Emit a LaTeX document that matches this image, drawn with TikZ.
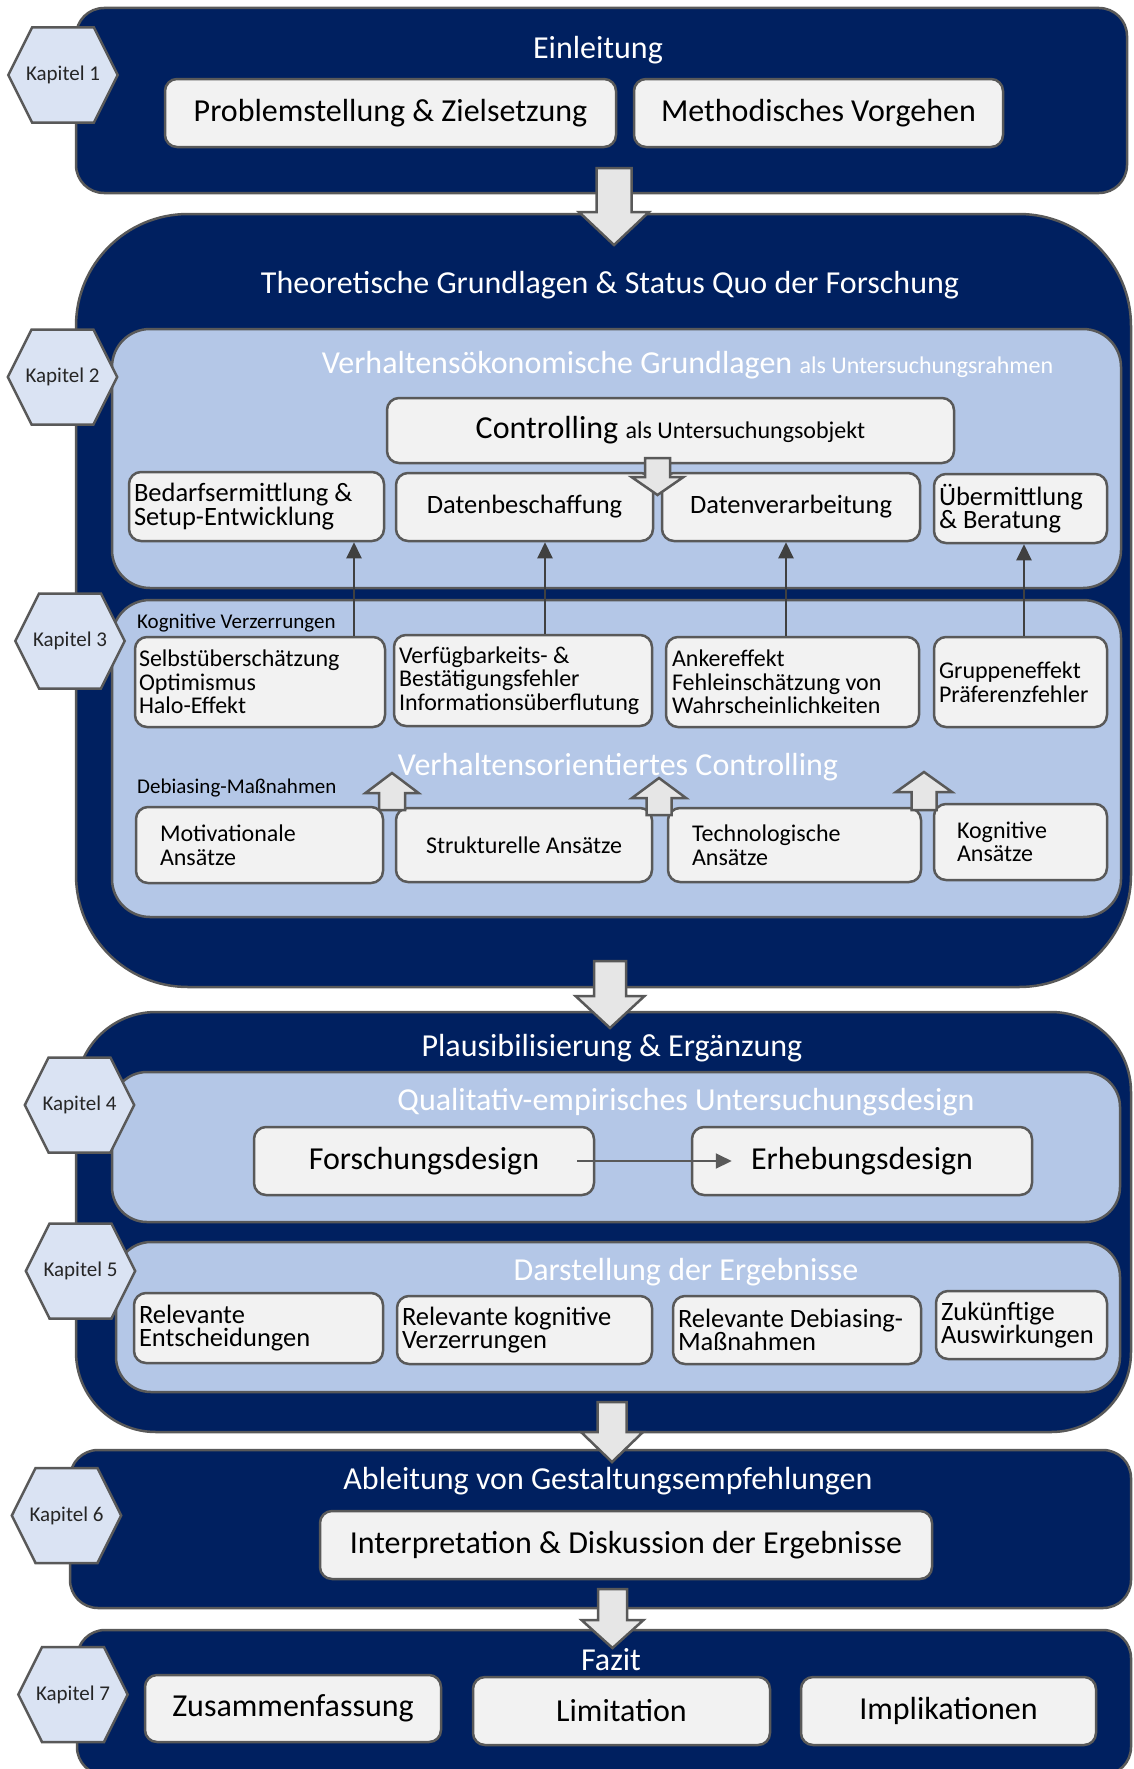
\documentclass[tikz,border=0pt]{standalone}
\usepackage{fontspec}
\setmainfont{Carlito}
\usepackage{tikz}
\usetikzlibrary{shapes,arrows.meta,positioning,calc}

\definecolor{navy}{HTML}{002060}
\definecolor{paleblue}{HTML}{B4C7E7}
\definecolor{hexblue}{HTML}{DAE3F3}
\definecolor{boxgray}{HTML}{F2F2F2}
\definecolor{linegray}{HTML}{595959}
\definecolor{arrowgray}{HTML}{404040}
\definecolor{arrowfill}{HTML}{E6E6E6}

\newcommand\alsfont{\fontsize{24}{28}\selectfont}

\begin{document}
\begin{tikzpicture}[
    x=1pt, y=-1pt,
    chapter/.style={rectangle, draw=linegray, line width=2.5pt, fill=navy, rounded corners=#1, inner sep=0pt},
    chapter/.default=28pt,
    layer/.style={rectangle, draw=linegray, line width=2.5pt, fill=paleblue, rounded corners=#1, inner sep=0pt},
    layer/.default=38pt,
    heading/.style={text=white, font=\fontsize{32}{38}\selectfont, inner sep=0pt},
    note/.style={font=\fontsize{21}{25}\selectfont, inner sep=0pt, anchor=west},
    kapitel/.style={signal, signal to=west and east, signal pointer angle=127, draw=linegray, line width=2.5pt, fill=hexblue, minimum height=95pt, inner xsep=-6pt, inner ysep=0pt, text=black!85, font=\fontsize{21}{25}\selectfont},
    box/.style={rectangle, draw=linegray, line width=2.5pt, fill=boxgray, rounded corners=12pt, inner sep=0pt, align=center, font=\fontsize{32}{36}\selectfont},
    rowbox/.style={box, align=flush left, inner xsep=5pt, font=\fontsize{26.5}{23.5}\selectfont},
    biasbox/.style={box, align=flush left, inner xsep=5pt, font=\fontsize{24}{23.5}\selectfont},
    arrow/.style={-{Triangle[width=15pt,length=16pt]}, line width=2pt, draw=arrowgray},
    bigarrow/.style={draw=linegray, line width=2.5pt, fill=arrowfill, line join=miter},
    pics/blockarrow/.style n args={4}{code={
        \draw[bigarrow] (-#1,0) -- (#1,0) -- (#1,#3) -- (#2,#3) -- (0,#3+#4) -- (-#2,#3) -- (-#1,#3) -- cycle;
    }}
]
    \useasboundingbox (0,0) rectangle (1133,1769);

    % Chapter blocks
    \node[chapter, minimum width=1051pt, minimum height=185pt] (einl) at (601.5,100.5) {};
    \node[chapter=112pt, minimum width=1055pt, minimum height=773pt] (theo) at (603.5,600.5) {};
    \node[chapter=80pt, minimum width=1055pt, minimum height=420pt] (plaus) at (603.5,1222) {};
    \node[chapter, minimum width=1061pt, minimum height=158pt] (ableit) at (600.5,1529) {};
    \node[chapter, minimum width=1054pt, minimum height=145pt] (fazit) at (604,1702.5) {};

    \node[heading] (einltitle) at (598,50) {Einleitung};
    \node[heading] (theotitle) at (610,285) {Theoretische Grundlagen \& Status Quo der Forschung};
    \node[heading] (plaustitle) at (612,1048) {Plausibilisierung \& Ergänzung};
    \node[heading] (ableittitle) at (608,1481) {Ableitung von Gestaltungsempfehlungen};
    \node[heading] (fazittitle) at (611,1660) {Fazit};

    % Inner layers
    \node[layer, minimum width=1009pt, minimum height=259pt] (verh) at (616.5,458.5) {};
    \node[layer, minimum width=1009pt, minimum height=317pt] (orient) at (616.5,758.5) {};
    \node[layer=35pt, minimum width=1008pt, minimum height=150pt] (quali) at (616,1147) {};
    \node[layer=35pt, minimum width=1004pt, minimum height=150pt] (darst) at (618,1317) {};

    \node[heading] (verhtitle) at (687.5,365) {Verhaltensökonomische Grundlagen {\alsfont als Untersuchungsrahmen}};
    \node[heading] (orienttitle) at (618,767) {Verhaltensorientiertes Controlling};
    \node[heading] (qualititle) at (686,1102) {Qualitativ-empirisches Untersuchungsdesign};
    \node[heading] (darsttitle) at (686,1272) {Darstellung der Ergebnisse};
    \node[note] (kogtitle) at (137,623) {Kognitive Verzerrungen};
    \node[note] (debtitle) at (137,788) {Debiasing-Maßnahmen};

    % Kapitel 1
    \node[box, minimum width=451pt, minimum height=68pt] (probl) at (390.5,113) {Problemstellung \& Zielsetzung};
    \node[box, minimum width=369pt, minimum height=68pt] (method) at (818.5,113) {Methodisches Vorgehen};

    % Kapitel 2
    \node[box, minimum width=567pt, minimum height=65pt] (contr) at (670.5,430.5) {Controlling {\alsfont als Untersuchungsobjekt}};
    \node[rowbox, text width=245pt, minimum height=69pt] (bedarf) at (256.5,506.5) {Bedarfsermittlung \&\\Setup-Entwicklung};
    \node[rowbox, align=center, inner xsep=0pt, minimum width=257pt, minimum height=68pt] (datenb) at (524.5,507) {Datenbeschaffung};
    \node[rowbox, align=center, inner xsep=0pt, minimum width=258pt, minimum height=68pt] (datenv) at (791,507) {Datenverarbeitung};
    \node[rowbox, text width=163pt, minimum height=69pt] (uebermit) at (1020.5,508.5) {Übermittlung\\\& Beratung};

    % Kapitel 3
    \node[biasbox, inner xsep=4pt, text width=242pt, minimum height=90pt] (selbst) at (260,682) {Selbstüberschätzung\\Optimismus\\Halo-Effekt};
    \node[biasbox, text width=248pt, minimum height=91pt] (verfueg) at (523,680.5) {Verfügbarkeits- \&\\Bestätigungsfehler\\Informationsüberflutung};
    \node[biasbox, inner xsep=6pt, text width=241pt, minimum height=90pt] (anker) at (792.5,682) {Ankereffekt\\Fehleinschätzung von\\Wahrscheinlichkeiten};
    \node[biasbox, text width=163pt, minimum height=90pt] (gruppe) at (1020.5,682) {Gruppeneffekt\\Präferenzfehler};

    \node[biasbox, inner xsep=24pt, text width=199pt, minimum height=76pt] (motiv) at (259.5,845) {Motivationale\\Ansätze};
    \node[biasbox, align=center, inner xsep=0pt, minimum width=256pt, minimum height=74pt] (strukt) at (524,845) {Strukturelle Ansätze};
    \node[biasbox, inner xsep=24pt, text width=205pt, minimum height=74pt] (techno) at (794.5,845) {Technologische\\Ansätze};
    \node[biasbox, inner xsep=23pt, text width=127pt, minimum height=76pt] (kognit) at (1020.5,842) {Kognitive\\Ansätze};

    % Kapitel 4
    \node[box, minimum width=340pt, minimum height=68pt] (forsch) at (424,1161) {Forschungsdesign};
    \node[box, minimum width=340pt, minimum height=68pt] (erheb) at (862,1161) {Erhebungsdesign};

    % Kapitel 5
    \node[rowbox, text width=239pt, minimum height=70pt] (relent) at (258.5,1328) {Relevante\\Entscheidungen};
    \node[rowbox, text width=245pt, minimum height=68pt] (relkog) at (524.5,1330) {Relevante kognitive\\Verzerrungen};
    \node[rowbox, text width=238pt, minimum height=68pt] (reldeb) at (797,1330) {Relevante Debiasing-\\Maßnahmen};
    \node[rowbox, text width=161pt, minimum height=68pt] (zukunft) at (1021.5,1325) {Zukünftige\\Auswirkungen};

    % Kapitel 6 and 7
    \node[box, minimum width=612pt, minimum height=68pt] (interp) at (626,1545) {Interpretation \& Diskussion der Ergebnisse};
    \node[box, minimum width=296pt, minimum height=67pt] (zusammen) at (293,1708.5) {Zusammenfassung};
    \node[box, minimum width=297pt, minimum height=68pt] (limit) at (621.5,1711) {Limitation};
    \node[box, minimum width=295pt, minimum height=68pt] (impl) at (948.5,1711) {Implikationen};

    % Chapter labels
    \node[kapitel] (k1) at (63,75) {Kapitel 1};
    \node[kapitel] (k2) at (62.5,377) {Kapitel 2};
    \node[kapitel] (k3) at (70,641) {Kapitel 3};
    \node[kapitel] (k4) at (79.5,1105) {Kapitel 4};
    \node[kapitel] (k5) at (80.5,1271) {Kapitel 5};
    \node[kapitel] (k6) at (66.5,1515.5) {Kapitel 6};
    \node[kapitel] (k7) at (73,1694.5) {Kapitel 7};

    % Arrows
    \draw[arrow] ([xshift=94pt]selbst.north) -- ([xshift=94pt]selbst.north |- bedarf.south);
    \draw[arrow] ([xshift=22pt]verfueg.north) -- ([xshift=22pt]verfueg.north |- datenb.south);
    \draw[arrow] ([xshift=-6.5pt]anker.north) -- ([xshift=-6.5pt]anker.north |- datenv.south);
    \draw[arrow] ([xshift=3.5pt]gruppe.north) -- ([xshift=3.5pt]gruppe.north |- uebermit.south);
    \draw[arrow, draw=linegray] ([xshift=-18pt]forsch.east) -- ([xshift=41pt]erheb.west);

    \pic at (614,168) {blockarrow={17.5}{35}{44}{33}};
    \pic at (610,961) {blockarrow={16}{34.5}{35}{32}};
    \pic at (612,1402) {blockarrow={14.5}{31}{30}{30}};
    \pic at (612.5,1589) {blockarrow={14.5}{31}{31}{28}};
    \pic at (657.5,458) {blockarrow={12.5}{26}{19}{18}};
    \pic[yscale=-1] at (392,810) {blockarrow={13}{26.5}{17}{20}};
    \pic[yscale=-1] at (659,815) {blockarrow={12.5}{27}{17}{20}};
    \pic[yscale=-1] at (924,810) {blockarrow={12.5}{28}{18}{20}};
\end{tikzpicture}
\end{document}
